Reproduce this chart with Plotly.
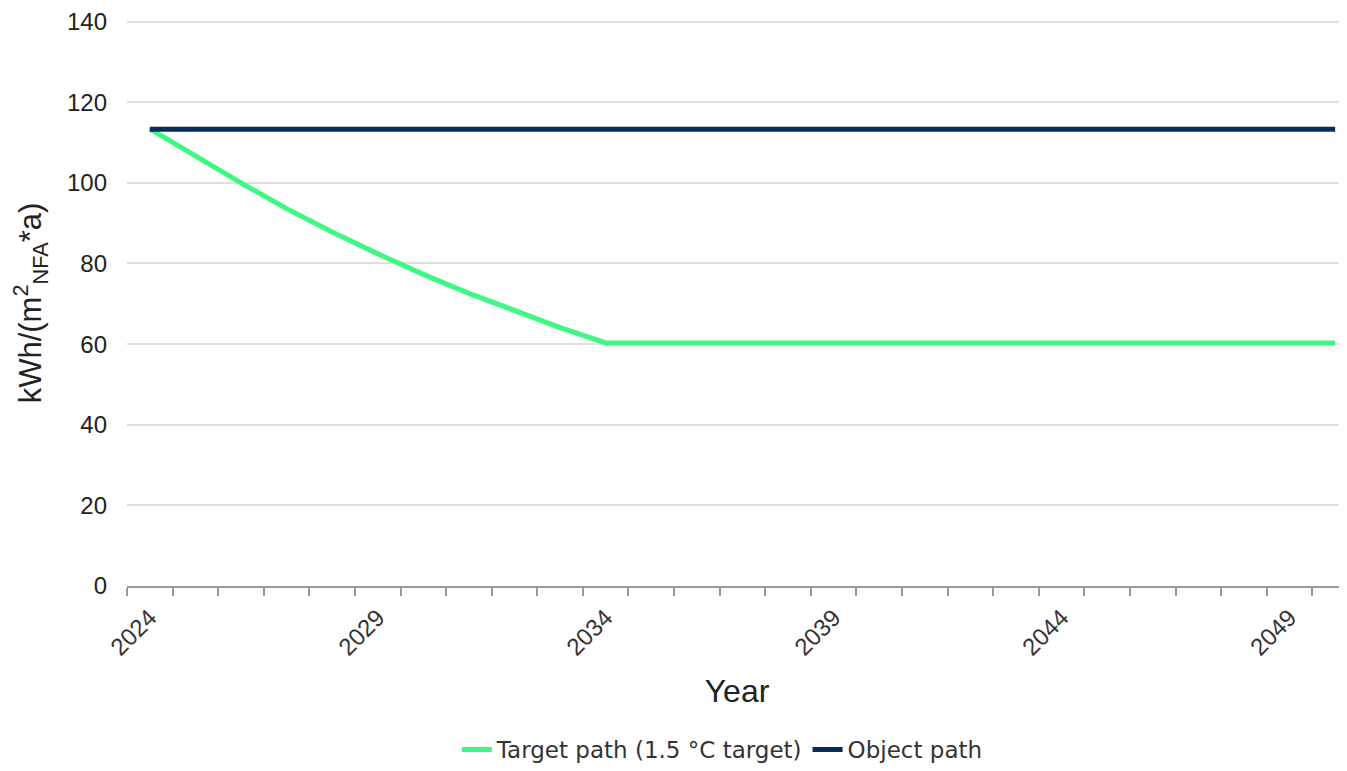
import plotly.graph_objects as go

years = list(range(2024, 2051))
target_path = [113.4, 106.6, 100.0, 93.6, 87.8, 82.4, 77.3, 72.6, 68.2, 64.1, 60.3] + [60.3] * 16
object_path = [113.3] * 27
tick_years = [2024, 2029, 2034, 2039, 2044, 2049]

fig = go.Figure()
fig.add_trace(go.Scatter(x=years, y=target_path, mode="lines", name="Target path (1.5 °C target)",
                         line=dict(color="#3ff884", width=5)))
fig.add_trace(go.Scatter(x=years, y=object_path, mode="lines", name="Object path",
                         line=dict(color="#062c5a", width=5)))

fig.update_layout(
    width=1339, height=763,
    margin=dict(l=119, r=0, t=12, b=173),
    plot_bgcolor="white", paper_bgcolor="white",
    font=dict(family="Liberation Sans, Arial, sans-serif", color="#333333"),
    showlegend=True,
    legend=dict(orientation="h", x=0.488, xanchor="center", y=-0.289, yanchor="middle",
                font=dict(family="DejaVu Sans", size=23, color="#333333")),
)
fig.update_xaxes(
    range=[2023.5, 2050.26], automargin=False,
    tickmode="array", tickvals=tick_years, ticktext=[str(y) for y in tick_years],
    tickangle=-45, ticks="", ticklabelstandoff=6, tickfont=dict(size=24, color="#333333"),
    showgrid=False, zeroline=False,
    showline=True, linecolor="#999999", linewidth=2,
    minor=dict(ticks="outside", dtick=1, tick0=2023.5, ticklen=8, tickcolor="#999999", tickwidth=2, showgrid=False),
    title=dict(text="Year", font=dict(size=32, color="#222222"), standoff=20),
)
fig.update_yaxes(
    range=[0, 140.4], dtick=20, tick0=0, automargin=False,
    showgrid=True, gridcolor="#e0e0e0", gridwidth=2,
    zeroline=False, showline=False, ticks="", ticklabelstandoff=19,
    tickfont=dict(size=24, color="#222222"),
    title=dict(text="kWh/(m<sup>2</sup><sub>NFA</sub>*a)", font=dict(size=31, color="#222222"), standoff=27),
)

fig.write_html("out.html")
